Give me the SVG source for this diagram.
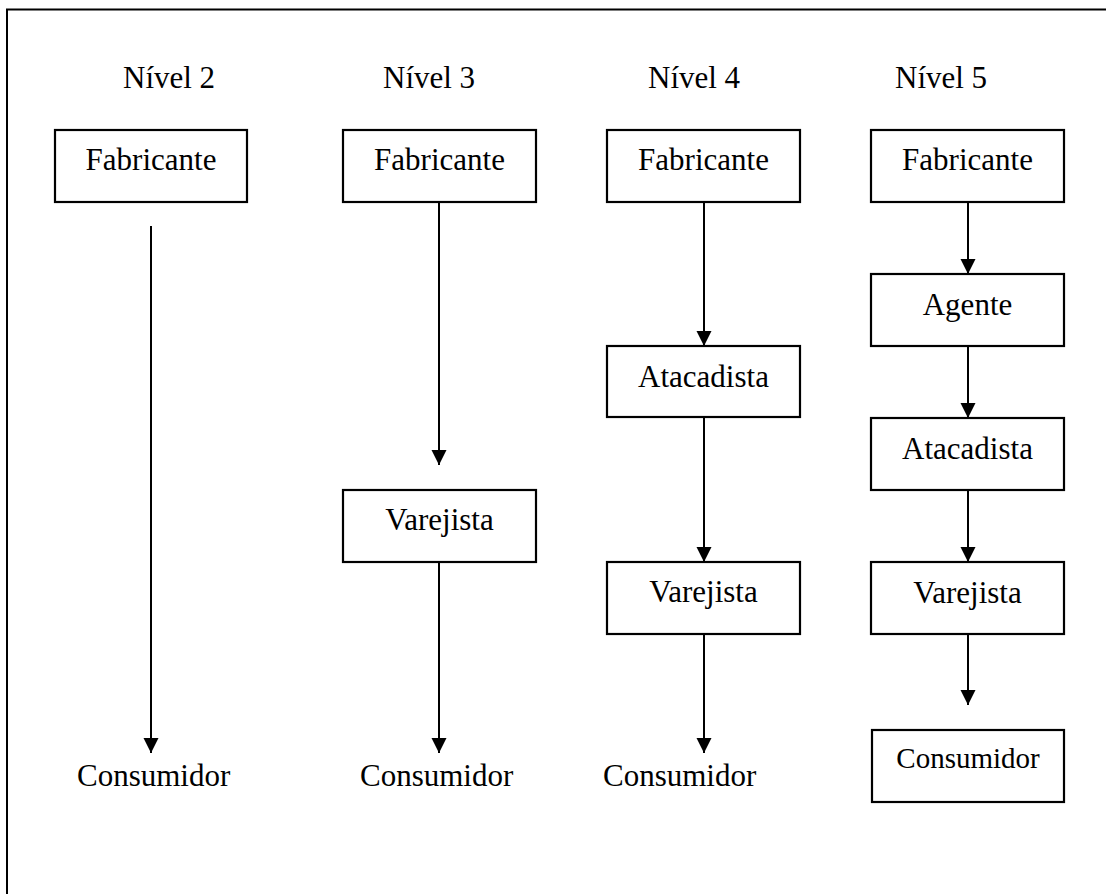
<svg xmlns="http://www.w3.org/2000/svg" width="1106" height="894" viewBox="0 0 1106 894">
<style>
.box{fill:#fff;stroke:#000;stroke-width:2.2}
.t{font-family:"Liberation Serif","Times New Roman",serif;font-size:31px;fill:#000}
.c{text-anchor:middle}
.ln{stroke:#000;stroke-width:2;fill:none;marker-end:url(#ah)}
</style>
<defs>
<marker id="ah" markerUnits="userSpaceOnUse" markerWidth="16" markerHeight="16" viewBox="0 0 16 16" refX="15" refY="7.5" orient="auto">
<path d="M0,0 L15,7.5 L0,15 z" fill="#000"/>
</marker>
</defs>
<rect width="1106" height="894" fill="#fff"/>
<path d="M7,894 V9.5 H1106" fill="none" stroke="#000" stroke-width="2"/>
<g id="labels">
<text class="t" x="123" y="88">Nível 2</text>
<text class="t" x="383" y="88">Nível 3</text>
<text class="t" x="648" y="88">Nível 4</text>
<text class="t" x="895" y="88">Nível 5</text>
</g>
<g id="n2-fabricante"><rect class="box" x="55" y="130" width="192" height="72"/><text class="t c" x="151" y="170">Fabricante</text></g>
<g id="n2-consumidor"><text class="t" x="77" y="786">Consumidor</text></g>
<g id="n3-fabricante"><rect class="box" x="343" y="130" width="193" height="72"/><text class="t c" x="439.5" y="170">Fabricante</text></g>
<g id="n3-varejista"><rect class="box" x="343" y="490" width="193" height="72"/><text class="t c" x="439.5" y="530">Varejista</text></g>
<g id="n3-consumidor"><text class="t" x="360" y="786">Consumidor</text></g>
<g id="n4-fabricante"><rect class="box" x="607" y="130" width="193" height="72"/><text class="t c" x="703.5" y="170">Fabricante</text></g>
<g id="n4-atacadista"><rect class="box" x="607" y="346" width="193" height="71"/><text class="t c" x="703.5" y="387">Atacadista</text></g>
<g id="n4-varejista"><rect class="box" x="607" y="562" width="193" height="72"/><text class="t c" x="703.5" y="602">Varejista</text></g>
<g id="n4-consumidor"><text class="t" x="603" y="786">Consumidor</text></g>
<g id="n5-fabricante"><rect class="box" x="871" y="130" width="193" height="72"/><text class="t c" x="967.5" y="170">Fabricante</text></g>
<g id="n5-agente"><rect class="box" x="871" y="274" width="193" height="72"/><text class="t c" x="967.5" y="315">Agente</text></g>
<g id="n5-atacadista"><rect class="box" x="871" y="418" width="193" height="72"/><text class="t c" x="967.5" y="459">Atacadista</text></g>
<g id="n5-varejista"><rect class="box" x="871" y="562" width="193" height="72"/><text class="t c" x="967.5" y="603">Varejista</text></g>
<g id="n5-consumidor"><rect class="box" x="872" y="730" width="192" height="72"/><text class="t c" x="968" y="768" style="font-size:29px">Consumidor</text></g>
<g id="connectors">
<line class="ln" x1="151" y1="226" x2="151" y2="753"/>
<line class="ln" x1="439" y1="202" x2="439" y2="465"/>
<line class="ln" x1="439" y1="562" x2="439" y2="753"/>
<line class="ln" x1="704" y1="202" x2="704" y2="346"/>
<line class="ln" x1="704" y1="417" x2="704" y2="562"/>
<line class="ln" x1="704" y1="634" x2="704" y2="753"/>
<line class="ln" x1="968" y1="202" x2="968" y2="274"/>
<line class="ln" x1="968" y1="346" x2="968" y2="418"/>
<line class="ln" x1="968" y1="490" x2="968" y2="562"/>
<line class="ln" x1="968" y1="634" x2="968" y2="705"/>
</g>
</svg>
